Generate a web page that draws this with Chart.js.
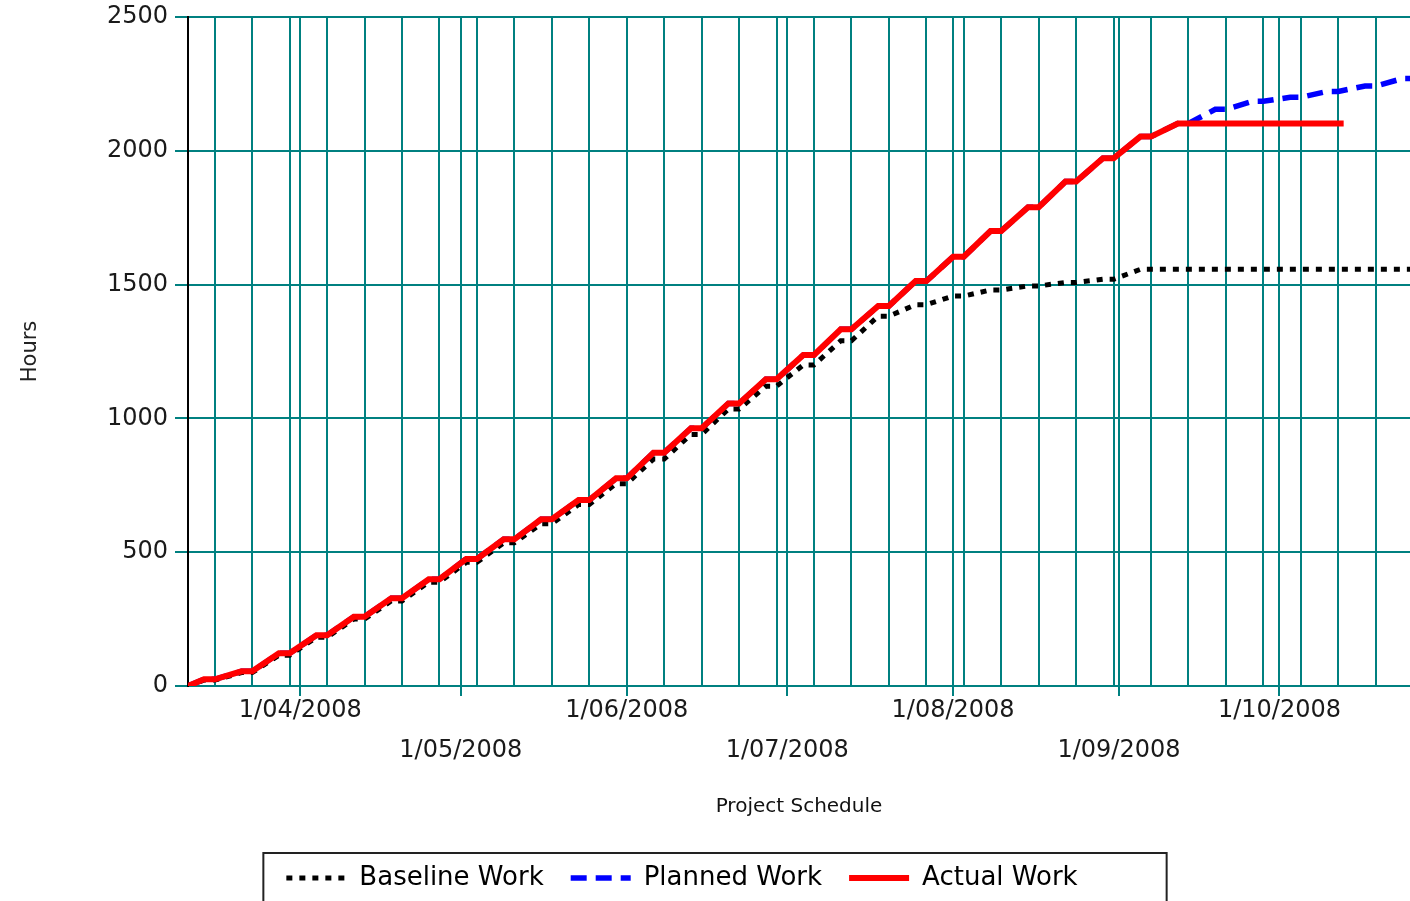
<!DOCTYPE html>
<html lang="en">
<head>
<meta charset="UTF-8">
<title>Project Work</title>
<script src="https://cdn.jsdelivr.net/npm/chart.js"></script>
<style>
  html, body { margin: 0; padding: 0; background: #fff; overflow: hidden; }
  canvas { display: block; }
</style>
</head>
<body>
<canvas id="workChart" width="1410" height="901"></canvas>
<script>
// week-ending Sundays (weekly grid lines)
const weekEnds = [
  '2008-03-16', '2008-03-23', '2008-03-30', '2008-04-06', '2008-04-13', '2008-04-20', '2008-04-27',
  '2008-05-04', '2008-05-11', '2008-05-18', '2008-05-25', '2008-06-01', '2008-06-08', '2008-06-15',
  '2008-06-22', '2008-06-29', '2008-07-06', '2008-07-13', '2008-07-20', '2008-07-27', '2008-08-03',
  '2008-08-10', '2008-08-17', '2008-08-24', '2008-08-31', '2008-09-07', '2008-09-14', '2008-09-21',
  '2008-09-28', '2008-10-05', '2008-10-12', '2008-10-19', '2008-10-26'
];

// cumulative hours reached at the end of each week
const baselineWork = [22, 50, 115, 182, 250, 318, 388, 462, 535, 606, 678, 756, 848, 940, 1035, 1120, 1200,
  1290, 1382, 1425, 1457, 1480, 1495, 1508, 1520, 1557, 1557, 1557, 1557, 1557, 1557, 1557, 1557];
const plannedWork = [25, 55, 122, 190, 259, 328, 399, 475, 548, 623, 695, 776, 872, 963, 1056, 1146, 1237,
  1333, 1420, 1513, 1604, 1700, 1789, 1885, 1972, 2053, 2102, 2155, 2185, 2200, 2222, 2242, 2270];
const actualWork = [25, 55, 122, 190, 259, 328, 399, 475, 548, 623, 695, 776, 872, 963, 1056, 1146, 1237,
  1333, 1420, 1513, 1604, 1700, 1789, 1885, 1972, 2053, 2102, 2102, 2102, 2102, 2102];

const projectStart = '2008-03-11';
const actualFinish = '2008-10-13';
const axisEndDay = 228.4; // about 25/10/2008, where the picture is cut

const monthTicks = ['2008-04-01', '2008-05-01', '2008-06-01', '2008-07-01', '2008-08-01', '2008-09-01', '2008-10-01'];
const monthLabels = ['1/04/2008', '1/05/2008', '1/06/2008', '1/07/2008', '1/08/2008', '1/09/2008', '1/10/2008'];

const teal = '#008080';

function dayNum(s) {
    const [y, m, d] = s.split('-').map(Number);
    const [y0, m0, d0] = projectStart.split('-').map(Number);
    return Math.round((Date.UTC(y, m - 1, d) - Date.UTC(y0, m0 - 1, d0)) / 86400000);
}

// flat over each weekend: Friday and Sunday carry the week's total
function stepPoints(levels) {
    const pts = [{ x: 0, y: 0 }];
    levels.forEach((v, i) => {
        const sun = dayNum(weekEnds[i]);
        pts.push({ x: sun - 2, y: v });
        pts.push({ x: sun, y: v });
    });
    return pts;
}

const monthDays = monthTicks.map(dayNum);
const weekDays = weekEnds.map(dayNum).filter(d => d <= axisEndDay);
const gridDays = [...new Set(weekDays.concat(monthDays))].sort((a, b) => a - b);

const actualPoints = stepPoints(actualWork);
actualPoints.push({ x: dayNum(actualFinish), y: actualWork[actualWork.length - 1] });

Chart.defaults.font.family = "'DejaVu Sans', sans-serif";

const legendFrame = {
    id: 'legendFrame',
    afterLayout(chart) {
        chart.legend.left -= 23;
        chart.legend.right -= 23;
    },
    afterDraw(chart) {
        const boxes = chart.legend.legendHitBoxes;
        if (!boxes || !boxes.length) return;
        const first = boxes[0], last = boxes[boxes.length - 1];
        const x0 = first.left - 23;
        const x1 = last.left + last.width + 89;
        const y0 = chart.legend.top + 15;
        const ctx = chart.ctx;
        ctx.save();
        ctx.strokeStyle = '#222';
        ctx.lineWidth = 2;
        ctx.strokeRect(x0, y0, x1 - x0, 80);
        ctx.restore();
    }
};

const ctx = document.getElementById('workChart').getContext('2d');
new Chart(ctx, {
    type: 'line',
    data: {
        datasets: [
            {
                label: 'Baseline Work',
                data: stepPoints(baselineWork),
                borderColor: '#000000',
                backgroundColor: '#000000',
                borderWidth: 5,
                borderDash: [6, 7],
                order: 1
            },
            {
                label: 'Planned Work',
                data: stepPoints(plannedWork),
                borderColor: '#0000ff',
                backgroundColor: '#0000ff',
                borderWidth: 5.5,
                borderDash: [16, 9],
                order: 2
            },
            {
                label: 'Actual Work',
                data: actualPoints,
                borderColor: '#ff0000',
                backgroundColor: '#ff0000',
                borderWidth: 6,
                order: 0
            }
        ]
    },
    options: {
        responsive: false,
        animation: false,
        layout: { padding: { top: 17, right: 0, bottom: 0, left: 0 } },
        elements: {
            point: { radius: 0, hoverRadius: 0 },
            line: { tension: 0, borderCapStyle: 'butt', borderJoinStyle: 'miter' }
        },
        scales: {
            x: {
                type: 'linear',
                min: 0,
                max: axisEndDay,
                afterBuildTicks: s => { s.ticks = gridDays.map(v => ({ value: v })); },
                afterFit: s => { s.height = 152; s.paddingLeft = 0; s.paddingRight = 0; },
                grid: {
                    color: teal,
                    lineWidth: 2,
                    tickLength: 10,
                    tickWidth: 2,
                    tickColor: c => (c.tick && monthDays.includes(c.tick.value)) ? teal : 'rgba(0,0,0,0)'
                },
                border: { color: teal, width: 2 },
                ticks: {
                    autoSkip: false,
                    maxRotation: 0,
                    minRotation: 0,
                    padding: -5,
                    color: '#1a1a1a',
                    font: { size: 24, lineHeight: 40 / 24 },
                    callback: v => {
                        const i = monthDays.indexOf(v);
                        if (i < 0) return '';
                        return i % 2 === 0 ? [monthLabels[i], ''] : ['', monthLabels[i]];
                    }
                },
                title: {
                    display: true,
                    text: 'Project Schedule',
                    color: '#111',
                    font: { size: 20 },
                    padding: { top: 0, bottom: 19 }
                }
            },
            y: {
                min: 0,
                max: 2500,
                afterFit: s => { s.width = 188; s.paddingTop = 0; s.paddingBottom = 0; },
                ticks: {
                    stepSize: 500,
                    padding: 7,
                    color: '#1a1a1a',
                    font: { size: 24 },
                    callback: v => String(v)
                },
                grid: { color: teal, lineWidth: 2, tickLength: 13, tickWidth: 2, tickColor: teal },
                border: { color: '#000', width: 2 },
                title: {
                    display: true,
                    text: 'Hours',
                    color: '#222',
                    font: { size: 21 },
                    padding: { top: 18, bottom: 0 }
                }
            }
        },
        plugins: {
            tooltip: { enabled: false },
            legend: {
                position: 'bottom',
                labels: {
                    usePointStyle: true,
                    pointStyle: 'line',
                    pointStyleWidth: 60,
                    padding: 27,
                    color: '#000',
                    font: { size: 26 },
                    generateLabels: chart => chart.data.datasets.map((ds, i) => ({
                        text: ds.label,
                        fontColor: '#000',
                        strokeStyle: ds.borderColor,
                        fillStyle: ds.borderColor,
                        lineWidth: ds.borderWidth,
                        lineDash: ds.borderDash || [],
                        lineCap: 'butt',
                        pointStyle: 'line',
                        hidden: false,
                        datasetIndex: i
                    }))
                }
            }
        }
    },
    plugins: [legendFrame]
});
</script>
</body>
</html>
